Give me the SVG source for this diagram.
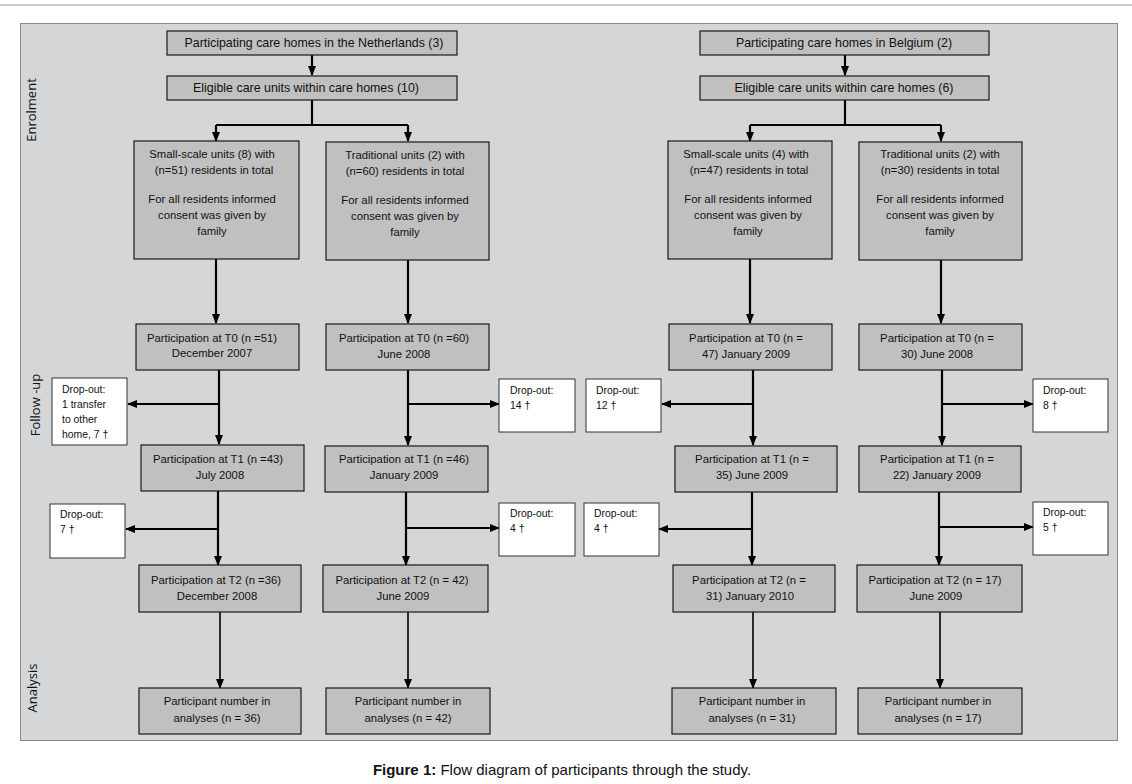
<svg xmlns="http://www.w3.org/2000/svg" width="1132" height="784" viewBox="0 0 1132 784">
<style>
.bx{fill:#c0c0c0;stroke:#1a1a1a;stroke-width:1.2}
.dx{fill:#ffffff;stroke:#333;stroke-width:1}
.t{font-family:"Liberation Sans",Arial,sans-serif;font-size:11.3px;fill:#111;text-anchor:middle}
.tl{font-family:"Liberation Sans",Arial,sans-serif;font-size:12.4px;fill:#111;text-anchor:middle}
.d{font-family:"Liberation Sans",Arial,sans-serif;font-size:10.4px;fill:#111}
.s{font-family:"Open Sans","Liberation Sans",sans-serif;font-size:13px;fill:#111;text-anchor:middle}
.c{stroke:#000;stroke-width:2.2;fill:none}
.ct{stroke:#000;stroke-width:1.6;fill:none}
</style>
<defs>
<marker id="ah" markerUnits="userSpaceOnUse" markerWidth="10" markerHeight="10" viewBox="0 0 10 10" refX="9" refY="5" orient="auto">
<path d="M0,1 L10,5 L0,9 Z" fill="#000"/>
</marker>
</defs>
<rect x="0" y="0" width="1132" height="784" fill="#fff"/>
<line x1="0" y1="5" x2="1132" y2="5" stroke="#ccc" stroke-width="2"/>
<rect x="20.5" y="23.5" width="1097" height="717" fill="#d5d6d8" stroke="#8a8a8a" stroke-width="1"/>
<g id="labels">
<text class="s" transform="translate(36,110) rotate(-90)">Enrolment</text>
<text class="s" transform="translate(40,405) rotate(-90)">Follow -up</text>
<text class="s" transform="translate(37,688) rotate(-90)">Analysis</text>
</g>
<g id="connectors">
<path class="c" d="M312,55 V75" marker-end="url(#ah)"/>
<path class="c" d="M312,100 V125 M216,125 H408"/>
<path class="c" d="M216,125 V141" marker-end="url(#ah)"/>
<path class="c" d="M408,125 V141" marker-end="url(#ah)"/>
<path class="c" d="M216,259 V323" marker-end="url(#ah)"/>
<path class="c" d="M408,260 V323" marker-end="url(#ah)"/>
<path class="c" d="M219,370 V444" marker-end="url(#ah)"/>
<path class="c" d="M219,404 H128" marker-end="url(#ah)"/>
<path class="c" d="M408,370 V445" marker-end="url(#ah)"/>
<path class="c" d="M408,404 H499" marker-end="url(#ah)"/>
<path class="c" d="M218,491 V565" marker-end="url(#ah)"/>
<path class="c" d="M218,529 H126" marker-end="url(#ah)"/>
<path class="c" d="M406,492 V565" marker-end="url(#ah)"/>
<path class="c" d="M406,528 H499" marker-end="url(#ah)"/>
<path class="ct" d="M220,612 V688" marker-end="url(#ah)"/>
<path class="ct" d="M408,612 V688" marker-end="url(#ah)"/>
<path class="c" d="M845,55 V75" marker-end="url(#ah)"/>
<path class="c" d="M845,100 V125 M750,125 H941"/>
<path class="c" d="M750,125 V141" marker-end="url(#ah)"/>
<path class="c" d="M941,125 V141" marker-end="url(#ah)"/>
<path class="c" d="M750,259 V323" marker-end="url(#ah)"/>
<path class="c" d="M941,260 V323" marker-end="url(#ah)"/>
<path class="c" d="M753,370 V445" marker-end="url(#ah)"/>
<path class="c" d="M753,404 H662" marker-end="url(#ah)"/>
<path class="c" d="M942,370 V445" marker-end="url(#ah)"/>
<path class="c" d="M942,404 H1033" marker-end="url(#ah)"/>
<path class="c" d="M752,492 V565" marker-end="url(#ah)"/>
<path class="c" d="M752,529 H659" marker-end="url(#ah)"/>
<path class="c" d="M939,492 V565" marker-end="url(#ah)"/>
<path class="c" d="M939,527 H1033" marker-end="url(#ah)"/>
<path class="ct" d="M753,612 V688" marker-end="url(#ah)"/>
<path class="ct" d="M940,612 V688" marker-end="url(#ah)"/>
</g>
<g id="nl-homes"><rect class="bx" x="167" y="31" width="290" height="24"/><text class="tl" x="314" y="47">Participating care homes in the Netherlands (3)</text></g>
<g id="nl-units"><rect class="bx" x="167" y="76" width="290" height="24"/><text class="tl" x="306" y="92">Eligible care units within care homes (10)</text></g>
<g id="nl-small"><rect class="bx" x="134" y="141" width="165" height="118"/>
<text class="t" x="212" y="158">Small-scale units (8) with</text><text class="t" x="214" y="174">(n=51) residents in total</text>
<text class="t" x="212" y="203">For all residents informed</text><text class="t" x="212" y="219">consent was given by</text><text class="t" x="212" y="235">family</text></g>
<g id="nl-trad"><rect class="bx" x="326" y="142" width="163" height="118"/>
<text class="t" x="405" y="159">Traditional units (2) with</text><text class="t" x="405" y="175">(n=60) residents in total</text>
<text class="t" x="405" y="204">For all residents informed</text><text class="t" x="405" y="220">consent was given by</text><text class="t" x="405" y="236">family</text></g>
<g id="nl-small-t0"><rect class="bx" x="136" y="324" width="163" height="46"/><text class="t" x="212" y="342">Participation at T0 (n =51)</text><text class="t" x="212" y="357">December 2007</text></g>
<g id="nl-trad-t0"><rect class="bx" x="326" y="324" width="163" height="46"/><text class="t" x="404" y="342">Participation at T0 (n =60)</text><text class="t" x="404" y="358">June 2008</text></g>
<g id="nl-small-drop1"><rect class="dx" x="52" y="378" width="75" height="67"/>
<text class="d" x="62" y="393">Drop-out:</text><text class="d" x="62" y="408">1 transfer</text><text class="d" x="62" y="423">to other</text><text class="d" x="62" y="438">home, 7 †</text></g>
<g id="nl-trad-drop1"><rect class="dx" x="499" y="379" width="76" height="53"/><text class="d" x="510" y="394">Drop-out:</text><text class="d" x="510" y="409">14 †</text></g>
<g id="nl-small-t1"><rect class="bx" x="141" y="445" width="163" height="46"/><text class="t" x="218" y="463">Participation at T1 (n =43)</text><text class="t" x="220" y="479">July 2008</text></g>
<g id="nl-trad-t1"><rect class="bx" x="325" y="446" width="163" height="46"/><text class="t" x="404" y="463">Participation at T1 (n =46)</text><text class="t" x="404" y="479">January 2009</text></g>
<g id="nl-small-drop2"><rect class="dx" x="50" y="504" width="75" height="54"/><text class="d" x="60" y="518">Drop-out:</text><text class="d" x="60" y="533">7 †</text></g>
<g id="nl-trad-drop2"><rect class="dx" x="499" y="503" width="76" height="53"/><text class="d" x="510" y="517">Drop-out:</text><text class="d" x="510" y="532">4 †</text></g>
<g id="nl-small-t2"><rect class="bx" x="139" y="565" width="162" height="47"/><text class="t" x="216" y="584">Participation at T2 (n =36)</text><text class="t" x="217" y="600">December 2008</text></g>
<g id="nl-trad-t2"><rect class="bx" x="323" y="565" width="165" height="47"/><text class="t" x="402" y="584">Participation at T2 (n = 42)</text><text class="t" x="403" y="600">June 2009</text></g>
<g id="nl-small-an"><rect class="bx" x="139" y="688" width="162" height="46"/><text class="t" x="217" y="705">Participant number in</text><text class="t" x="217" y="722">analyses (n = 36)</text></g>
<g id="nl-trad-an"><rect class="bx" x="326" y="688" width="164" height="46"/><text class="t" x="408" y="705">Participant number in</text><text class="t" x="408" y="722">analyses (n = 42)</text></g>
<g id="be-homes"><rect class="bx" x="700" y="31" width="289" height="24"/><text class="tl" x="844" y="47">Participating care homes in Belgium (2)</text></g>
<g id="be-units"><rect class="bx" x="700" y="76" width="289" height="24"/><text class="tl" x="844" y="92">Eligible care units within care homes (6)</text></g>
<g id="be-small"><rect class="bx" x="668" y="141" width="164" height="118"/>
<text class="t" x="746" y="158">Small-scale units (4) with</text><text class="t" x="749" y="174">(n=47) residents in total</text>
<text class="t" x="748" y="203">For all residents informed</text><text class="t" x="748" y="219">consent was given by</text><text class="t" x="748" y="235">family</text></g>
<g id="be-trad"><rect class="bx" x="859" y="142" width="163" height="118"/>
<text class="t" x="940" y="158">Traditional units (2) with</text><text class="t" x="940" y="174">(n=30) residents in total</text>
<text class="t" x="940" y="203">For all residents informed</text><text class="t" x="940" y="219">consent was given by</text><text class="t" x="940" y="235">family</text></g>
<g id="be-small-t0"><rect class="bx" x="669" y="324" width="163" height="46"/><text class="t" x="746" y="342">Participation at T0 (n =</text><text class="t" x="746" y="358">47)  January 2009</text></g>
<g id="be-trad-t0"><rect class="bx" x="859" y="324" width="163" height="46"/><text class="t" x="937" y="342">Participation at T0 (n =</text><text class="t" x="937" y="358">30)  June 2008</text></g>
<g id="be-small-drop1"><rect class="dx" x="586" y="379" width="75" height="53"/><text class="d" x="596" y="394">Drop-out:</text><text class="d" x="596" y="409">12 †</text></g>
<g id="be-trad-drop1"><rect class="dx" x="1033" y="379" width="75" height="53"/><text class="d" x="1043" y="394">Drop-out:</text><text class="d" x="1043" y="409">8 †</text></g>
<g id="be-small-t1"><rect class="bx" x="675" y="446" width="162" height="46"/><text class="t" x="752" y="463">Participation at T1 (n =</text><text class="t" x="752" y="479">35)  June 2009</text></g>
<g id="be-trad-t1"><rect class="bx" x="859" y="446" width="162" height="46"/><text class="t" x="937" y="463">Participation at T1 (n =</text><text class="t" x="937" y="479">22)  January 2009</text></g>
<g id="be-small-drop2"><rect class="dx" x="584" y="503" width="75" height="53"/><text class="d" x="594" y="517">Drop-out:</text><text class="d" x="594" y="532">4 †</text></g>
<g id="be-trad-drop2"><rect class="dx" x="1033" y="502" width="75" height="53"/><text class="d" x="1043" y="516">Drop-out:</text><text class="d" x="1043" y="531">5 †</text></g>
<g id="be-small-t2"><rect class="bx" x="673" y="565" width="162" height="47"/><text class="t" x="749" y="584">Participation at T2 (n =</text><text class="t" x="750" y="600">31)  January 2010</text></g>
<g id="be-trad-t2"><rect class="bx" x="857" y="565" width="165" height="47"/><text class="t" x="935" y="584">Participation at T2 (n = 17)</text><text class="t" x="936" y="600">June 2009</text></g>
<g id="be-small-an"><rect class="bx" x="672" y="688" width="164" height="46"/><text class="t" x="752" y="705">Participant number in</text><text class="t" x="752" y="722">analyses (n = 31)</text></g>
<g id="be-trad-an"><rect class="bx" x="858" y="688" width="164" height="46"/><text class="t" x="938" y="705">Participant number in</text><text class="t" x="938" y="722">analyses (n = 17)</text></g>
<text x="562" y="775" font-family="Liberation Sans,Arial,sans-serif" font-size="15" fill="#111" text-anchor="middle"><tspan font-weight="bold">Figure 1:</tspan> Flow diagram of participants through the study.</text>
</svg>
